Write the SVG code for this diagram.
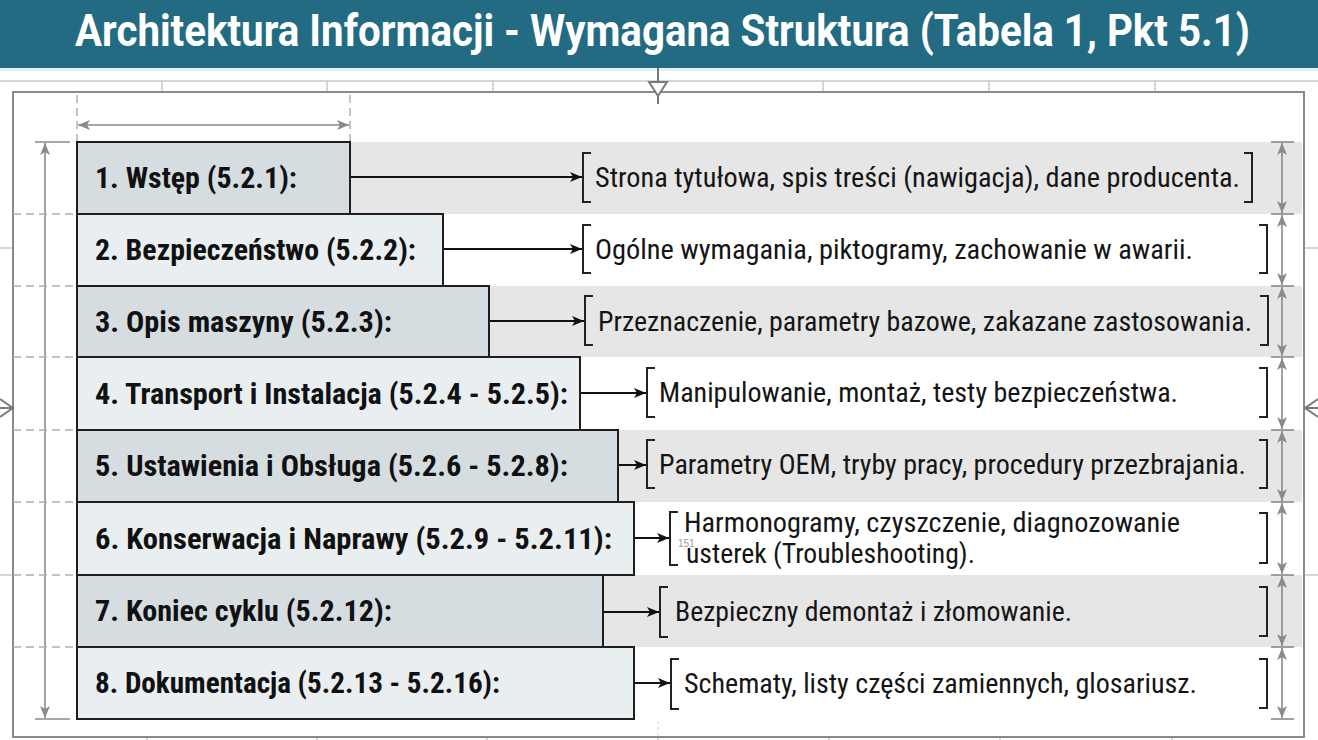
<svg xmlns="http://www.w3.org/2000/svg" width="1318" height="740" viewBox="0 0 1318 740">
<defs>
<style>
.title{font-family:"Roboto","Liberation Sans",sans-serif;font-weight:bold;font-size:45px;fill:#ffffff}
.lbl{font-family:"Liberation Sans Narrow","Roboto Condensed","Roboto","Liberation Sans",sans-serif;font-weight:bold;font-size:29px;fill:#111}
.desc{font-family:"Liberation Sans Narrow","Roboto Condensed","Roboto","Liberation Sans",sans-serif;font-size:27px;fill:#151515}
.boxA{fill:#d5dde1;stroke:#1e1e1e;stroke-width:2}
.boxB{fill:#e9eef0;stroke:#1e1e1e;stroke-width:2}
.band{fill:#e6e6e6}
.conn{stroke:#111;stroke-width:2;fill:none;marker-end:url(#ah)}
.brk{stroke:#222;stroke-width:2;fill:none}
.dim{stroke:#8a8a8a;stroke-width:1.6;fill:none}
.dimA{stroke:#8a8a8a;stroke-width:1.6;fill:none;marker-start:url(#ga);marker-end:url(#ga)}
.dash{stroke:#b0b0b0;stroke-width:1.5;stroke-dasharray:8 5;fill:none}
.grid{stroke:#c8c8c8;stroke-width:1.5;fill:none}
</style>
<marker id="ah" viewBox="0 0 12 10" refX="12" refY="5" markerWidth="12" markerHeight="10" markerUnits="userSpaceOnUse" orient="auto">
<path d="M0,0 L12,5 L0,10 L3,5 Z" fill="#111"/>
</marker>
<marker id="ga" viewBox="0 0 12 10" refX="12" refY="5" markerWidth="12" markerHeight="10" markerUnits="userSpaceOnUse" orient="auto-start-reverse">
<path d="M0,0 L12,5 L0,10 L3,5 Z" fill="#8a8a8a"/>
</marker>
</defs>
<rect width="1318" height="740" fill="#ffffff"/>
<!-- title -->
<rect x="0" y="0" width="1318" height="68" fill="#236b82"/>
<rect x="0" y="68" width="1318" height="3" fill="#e4f2f5"/>
<text class="title" x="75" y="46" textLength="1175" lengthAdjust="spacingAndGlyphs">Architektura Informacji - Wymagana Struktura (Tabela 1, Pkt 5.1)</text>
<!-- background grid -->
<g id="grid">
<line class="grid" x1="0" y1="81" x2="1318" y2="81"/>
<line class="grid" x1="162" y1="81" x2="162" y2="92"/>
<line class="grid" x1="327" y1="81" x2="327" y2="92"/>
<line class="grid" x1="493" y1="81" x2="493" y2="92"/>
<line class="grid" x1="823" y1="81" x2="823" y2="92"/>
<line class="grid" x1="989" y1="81" x2="989" y2="92"/>
<line class="grid" x1="1155" y1="81" x2="1155" y2="92"/>
<line class="grid" x1="0" y1="248" x2="13" y2="248"/>
<line class="grid" x1="0" y1="575" x2="13" y2="575"/>
<line class="grid" x1="1304" y1="248" x2="1318" y2="248"/>
<line class="grid" x1="1304" y1="575" x2="1318" y2="575"/>
<line class="grid" x1="147" y1="737" x2="147" y2="740"/>
<line class="grid" x1="317" y1="737" x2="317" y2="740"/>
<line class="grid" x1="487" y1="737" x2="487" y2="740"/>
<line class="grid" x1="658" y1="737" x2="658" y2="740"/>
<line class="grid" x1="829" y1="737" x2="829" y2="740"/>
<line class="grid" x1="1000" y1="737" x2="1000" y2="740"/>
<line class="grid" x1="1172" y1="737" x2="1172" y2="740"/>
<line x1="658" y1="721" x2="658" y2="737" stroke="#d0d0d0" stroke-width="1" stroke-dasharray="3 3"/>
</g>
<!-- gray bands -->
<g id="bands">
<rect class="band" x="77" y="142" width="1225" height="72"/>
<rect class="band" x="77" y="286" width="1225" height="71"/>
<rect class="band" x="77" y="430" width="1225" height="72"/>
<rect class="band" x="77" y="575" width="1225" height="72"/>
</g>
<!-- frame -->
<rect x="13" y="92" width="1291" height="645" fill="none" stroke="#8a8a8a" stroke-width="2"/>
<!-- top center marker and side markers -->
<g id="markers" stroke="#7a7a7a" stroke-width="2" fill="none">
<line x1="658" y1="68" x2="658" y2="104"/>
<path d="M649,82 L667,82 L658,96 Z" fill="#ffffff"/>
<path d="M0,399 L13,408 L0,417"/>
<line x1="0" y1="408" x2="13" y2="408"/>
<path d="M1318,399 L1305,408 L1318,417"/>
<line x1="1305" y1="408" x2="1318" y2="408"/>
</g>
<!-- dimension lines -->
<g id="dimensions">
<line class="dash" x1="77" y1="95" x2="77" y2="142"/>
<line class="dash" x1="350" y1="95" x2="350" y2="142"/>
<line class="dimA" x1="78" y1="125" x2="349" y2="125"/>
<line class="dim" x1="35" y1="142" x2="70" y2="142"/>
<line class="dim" x1="35" y1="719" x2="70" y2="719"/>
<line class="dimA" x1="45" y1="143" x2="45" y2="718"/>
<line class="dash" x1="13" y1="214" x2="77" y2="214"/>
<line class="dash" x1="13" y1="286" x2="77" y2="286"/>
<line class="dash" x1="13" y1="357" x2="77" y2="357"/>
<line class="dash" x1="13" y1="430" x2="77" y2="430"/>
<line class="dash" x1="13" y1="502" x2="77" y2="502"/>
<line class="dash" x1="13" y1="575" x2="77" y2="575"/>
<line class="dash" x1="13" y1="647" x2="77" y2="647"/>
<line class="dim" x1="1271" y1="142" x2="1294" y2="142"/>
<line class="dim" x1="1271" y1="214" x2="1294" y2="214"/>
<line class="dim" x1="1271" y1="286" x2="1294" y2="286"/>
<line class="dim" x1="1271" y1="357" x2="1294" y2="357"/>
<line class="dim" x1="1271" y1="430" x2="1294" y2="430"/>
<line class="dim" x1="1271" y1="502" x2="1294" y2="502"/>
<line class="dim" x1="1271" y1="575" x2="1294" y2="575"/>
<line class="dim" x1="1271" y1="647" x2="1294" y2="647"/>
<line class="dim" x1="1271" y1="719" x2="1294" y2="719"/>
<line class="dimA" x1="1282" y1="143" x2="1282" y2="213"/>
<line class="dimA" x1="1282" y1="215" x2="1282" y2="285"/>
<line class="dimA" x1="1282" y1="287" x2="1282" y2="356"/>
<line class="dimA" x1="1282" y1="358" x2="1282" y2="429"/>
<line class="dimA" x1="1282" y1="431" x2="1282" y2="501"/>
<line class="dimA" x1="1282" y1="503" x2="1282" y2="574"/>
<line class="dimA" x1="1282" y1="576" x2="1282" y2="646"/>
<line class="dimA" x1="1282" y1="648" x2="1282" y2="718"/>
</g>
<!-- nodes -->
<g id="n1"><rect class="boxA" x="77" y="142" width="273" height="72"/><text class="lbl" x="95" y="188" textLength="202" lengthAdjust="spacingAndGlyphs">1. Wstęp (5.2.1):</text></g>
<g id="n2"><rect class="boxB" x="77" y="214" width="366" height="72"/><text class="lbl" x="95" y="260" textLength="321" lengthAdjust="spacingAndGlyphs">2. Bezpieczeństwo (5.2.2):</text></g>
<g id="n3"><rect class="boxA" x="77" y="286" width="412" height="71"/><text class="lbl" x="95" y="332" textLength="297" lengthAdjust="spacingAndGlyphs">3. Opis maszyny (5.2.3):</text></g>
<g id="n4"><rect class="boxB" x="77" y="357" width="503" height="73"/><text class="lbl" x="95" y="404" textLength="473" lengthAdjust="spacingAndGlyphs">4. Transport i Instalacja (5.2.4 - 5.2.5):</text></g>
<g id="n5"><rect class="boxA" x="77" y="430" width="541" height="72"/><text class="lbl" x="95" y="476" textLength="473" lengthAdjust="spacingAndGlyphs">5. Ustawienia i Obsługa (5.2.6 - 5.2.8):</text></g>
<g id="n6"><rect class="boxB" x="77" y="502" width="557" height="73"/><text class="lbl" x="95" y="549" textLength="517" lengthAdjust="spacingAndGlyphs">6. Konserwacja i Naprawy (5.2.9 - 5.2.11):</text></g>
<g id="n7"><rect class="boxA" x="77" y="575" width="526" height="72"/><text class="lbl" x="95" y="621" textLength="297" lengthAdjust="spacingAndGlyphs">7. Koniec cyklu (5.2.12):</text></g>
<g id="n8"><rect class="boxB" x="77" y="647" width="557" height="72"/><text class="lbl" x="95" y="693" textLength="405" lengthAdjust="spacingAndGlyphs">8. Dokumentacja (5.2.13 - 5.2.16):</text></g>
<!-- descriptions -->
<g id="d1"><path class="brk" d="M591,153 H583 V202 H591"/><path class="brk" d="M1244,153 H1252 V202 H1244"/><text class="desc" x="595" y="187" textLength="645" lengthAdjust="spacingAndGlyphs">Strona tytułowa, spis treści (nawigacja), dane producenta.</text></g>
<g id="d2"><path class="brk" d="M591,225 H583 V273 H591"/><path class="brk" d="M1259,225 H1267 V273 H1259"/><text class="desc" x="595" y="259" textLength="598" lengthAdjust="spacingAndGlyphs">Ogólne wymagania, piktogramy, zachowanie w awarii.</text></g>
<g id="d3"><path class="brk" d="M593,296 H585 V345 H593"/><path class="brk" d="M1260,296 H1268 V345 H1260"/><text class="desc" x="598" y="331" textLength="654" lengthAdjust="spacingAndGlyphs">Przeznaczenie, parametry bazowe, zakazane zastosowania.</text></g>
<g id="d4"><path class="brk" d="M655,368 H647 V417 H655"/><path class="brk" d="M1259,368 H1267 V417 H1259"/><text class="desc" x="659" y="402" textLength="519" lengthAdjust="spacingAndGlyphs">Manipulowanie, montaż, testy bezpieczeństwa.</text></g>
<g id="d5"><path class="brk" d="M655,440 H647 V488 H655"/><path class="brk" d="M1259,440 H1267 V488 H1259"/><text class="desc" x="659" y="474" textLength="587" lengthAdjust="spacingAndGlyphs">Parametry OEM, tryby pracy, procedury przezbrajania.</text></g>
<g id="d6"><path class="brk" d="M678,512 H670 V565 H678"/><path class="brk" d="M1259,513 H1267 V563 H1259"/><text class="desc" x="684" y="532" textLength="496" lengthAdjust="spacingAndGlyphs">Harmonogramy, czyszczenie, diagnozowanie</text><text class="desc" x="686" y="563" textLength="289" lengthAdjust="spacingAndGlyphs">usterek (Troubleshooting).</text><text x="678" y="547" font-family="Liberation Sans, sans-serif" font-size="10" fill="#9a9a9a">151</text></g>
<g id="d7"><path class="brk" d="M668,587 H660 V637 H668"/><path class="brk" d="M1259,587 H1267 V636 H1259"/><text class="desc" x="675" y="621" textLength="397" lengthAdjust="spacingAndGlyphs">Bezpieczny demontaż i złomowanie.</text></g>
<g id="d8"><path class="brk" d="M679,659 H671 V709 H679"/><path class="brk" d="M1259,659 H1267 V708 H1259"/><text class="desc" x="684" y="693" textLength="513" lengthAdjust="spacingAndGlyphs">Schematy, listy części zamiennych, glosariusz.</text></g>
<!-- connectors -->
<g id="connectors">
<line class="conn" x1="351" y1="177" x2="582" y2="177"/>
<line class="conn" x1="444" y1="249" x2="582" y2="249"/>
<line class="conn" x1="490" y1="321" x2="584" y2="321"/>
<line class="conn" x1="581" y1="393" x2="646" y2="393"/>
<line class="conn" x1="619" y1="465" x2="646" y2="465"/>
<line class="conn" x1="635" y1="538" x2="669" y2="538"/>
<line class="conn" x1="604" y1="612" x2="659" y2="612"/>
<line class="conn" x1="635" y1="683" x2="670" y2="683"/>
</g>
</svg>
